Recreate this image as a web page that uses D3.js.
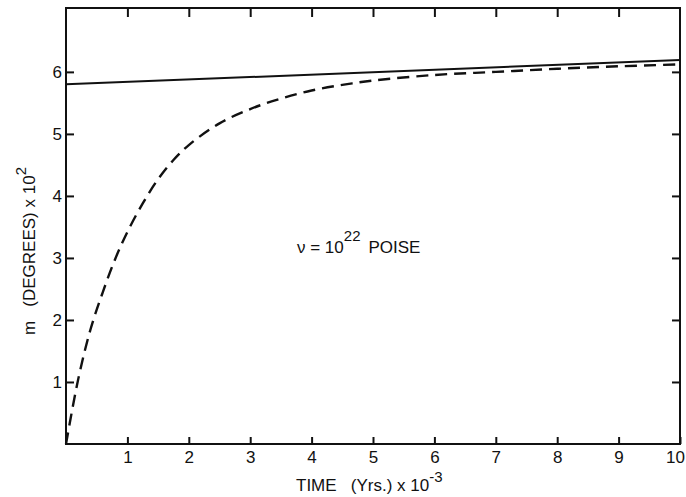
<!DOCTYPE html>
<html>
<head>
<meta charset="utf-8">
<script src="https://cdn.jsdelivr.net/npm/d3@7"></script>
<style>
  body { margin: 0; background: #fff; }
  text { font-family: "Liberation Sans", Arial, sans-serif; fill: #111; white-space: pre; }
</style>
</head>
<body>
<div id="chart"></div>
<script>
// solid curve (elastic) and dashed curve (viscous relaxation), time in 10^3 yrs
const solidTime = [0, 10];
const solidM = [5.80, 6.19];

const dashedTime = [0, 0.2, 0.4, 0.6, 0.8, 1.0, 1.25, 1.5, 1.75, 2.0, 2.5, 3, 3.5, 4, 4.5, 5, 6, 7, 8, 9, 10];
const dashedM = [0, 1.05, 1.85, 2.45, 2.98, 3.42, 3.88, 4.27, 4.58, 4.82, 5.17, 5.40, 5.57, 5.70, 5.79, 5.86, 5.95, 6.00, 6.05, 6.09, 6.12];

const xTicks = [1, 2, 3, 4, 5, 6, 7, 8, 9, 10];
const yTicks = [1, 2, 3, 4, 5, 6];

const width = 686, height = 497;
const margin = {t: 8, r: 6, b: 53, l: 66};

const svg = d3.select('#chart')
    .append('svg')
    .attr('width', width)
    .attr('height', height);

const x = d3.scaleLinear().domain([0, 10]).range([margin.l, width - margin.r]);
const y = d3.scaleLinear().domain([0, 7.03]).range([height - margin.b, margin.t]);

// frame
svg.append('rect')
    .attr('x', x(0))
    .attr('y', y(7.03))
    .attr('width', x(10) - x(0))
    .attr('height', y(0) - y(7.03))
    .attr('fill', 'none')
    .attr('stroke', '#111')
    .attr('stroke-width', 2);

// axes, ticks pointing inward
const fmt = d3.format('d');
const axes = [
    {axis: d3.axisBottom(x).tickValues(xTicks).tickFormat(fmt).tickSizeInner(-7).tickPadding(7), t: `translate(0,${y(0)})`},
    {axis: d3.axisTop(x).tickValues(xTicks.slice(0, 9)).tickSizeInner(-9).tickFormat(''), t: `translate(0,${y(7.03)})`},
    {axis: d3.axisLeft(y).tickValues(yTicks).tickFormat(fmt).tickSizeInner(-8).tickPadding(4), t: `translate(${x(0)},0)`},
    {axis: d3.axisRight(y).tickValues(yTicks).tickSizeInner(-8).tickFormat(''), t: `translate(${x(10)},0)`}
];

axes.forEach(a => {
    const g = svg.append('g')
        .attr('transform', a.t)
        .call(a.axis.tickSizeOuter(0));
    g.select('.domain').remove();
    g.selectAll('.tick line').attr('stroke', '#111').attr('stroke-width', 2);
    g.selectAll('.tick text')
        .style('font-size', '17px')
        .style('font-family', '"Liberation Sans", Arial, sans-serif')
        .attr('fill', '#111');
});

// last x label sits at the page edge, nudge it in
svg.selectAll('.tick text').filter(d => d === 10).attr('dx', -5);

// curves
const line = d3.line()
    .curve(d3.curveCatmullRom.alpha(0.5))
    .x(d => x(d[0]))
    .y(d => y(d[1]));

svg.append('path')
    .datum(d3.zip(solidTime, solidM))
    .attr('fill', 'none')
    .attr('stroke', '#111')
    .attr('stroke-width', 2)
    .attr('d', line);

svg.append('path')
    .datum(d3.zip(dashedTime, dashedM))
    .attr('fill', 'none')
    .attr('stroke', '#111')
    .attr('stroke-width', 2.4)
    .attr('stroke-dasharray', '12,7')
    .attr('d', line);

// annotation
const note = svg.append('text')
    .attr('x', 297)
    .attr('y', 253)
    .style('font-size', '17px');
note.append('tspan').text('\u03bd = 10');
note.append('tspan').attr('dy', -12).style('font-size', '15px').text('22');
note.append('tspan').attr('dy', 12).attr('dx', 8).text('POISE');

// x title
const xt = svg.append('text')
    .attr('x', 296)
    .attr('y', 491)
    .style('font-size', '17px');
xt.append('tspan').text('TIME   (Yrs.) x 10');
xt.append('tspan').attr('dy', -9).style('font-size', '15px').text('-3');

// y title
const yt = svg.append('text')
    .attr('transform', 'translate(35,335) rotate(-90)')
    .style('font-size', '17px');
yt.append('tspan').text('m   (DEGREES) x 10');
yt.append('tspan').attr('dy', -9).style('font-size', '15px').text('2');
</script>
</body>
</html>
